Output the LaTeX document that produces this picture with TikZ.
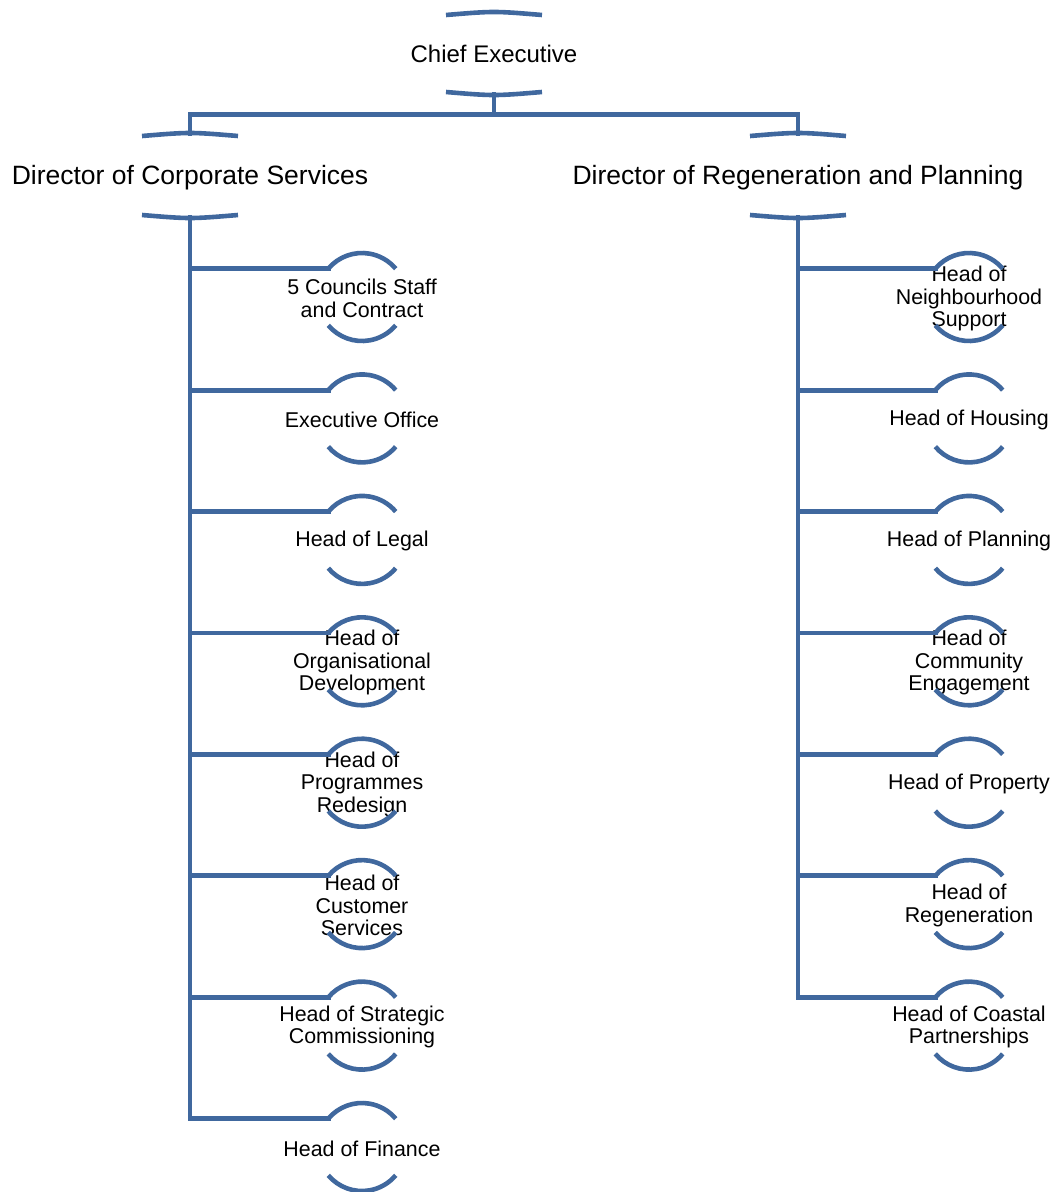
\documentclass[tikz,border=0pt]{standalone}
\usepackage{fontspec}
\setmainfont{Liberation Sans}
\definecolor{orgblue}{RGB}{64,104,158}
\begin{document}
\begin{tikzpicture}[x=1pt,y=-1pt,
  conn/.style={draw=orgblue, line width=4.8pt, line cap=rect},
  archline/.style={draw=orgblue, line width=4.6pt},
  toptext/.style={font=\fontsize{24}{26}\selectfont, inner sep=0pt},
  dirtext/.style={font=\fontsize{26.5}{28}\selectfont, inner sep=0pt},
  smalltext/.style={font=\fontsize{21.4}{22.4}\selectfont, align=center, inner sep=0pt}]
\useasboundingbox (0,0) rectangle (1054,1192);

% Chief Executive
\node[toptext] (ceo) at (494,54) {Chief Executive};
\draw[archline] (446,15) .. controls (494,11) .. (542,15);
\draw[archline] (446,92) .. controls (494,96) .. (542,92);
\coordinate (ceob) at (494,94);

% Directors
\node[dirtext] (dcs) at (190,177.5) {Director of Corporate Services};
\draw[archline] (142,136) .. controls (190,132) .. (238,136);
\draw[archline] (142,215) .. controls (190,219) .. (238,215);
\coordinate (dcst) at (190,134);
\coordinate (dcsb) at (190,217);

\node[dirtext] (drp) at (798,177.5) {Director of Regeneration and Planning};
\draw[archline] (750,136) .. controls (798,132) .. (846,136);
\draw[archline] (750,215) .. controls (798,219) .. (846,215);
\coordinate (drpt) at (798,134);
\coordinate (drpb) at (798,217);

% top connectors
\coordinate (bar) at (494,114.5);
\coordinate (barl) at (190,114.5);
\coordinate (barr) at (798,114.5);
\draw[conn] (ceob) -- (bar);
\draw[conn] (barl) -- (barr);
\draw[conn] (barl) -- (dcst);
\draw[conn] (barr) -- (drpt);

% left children
\foreach \i/\yy/\txt in {1/297/{5 Councils Staff\\and Contract},
                        2/418.4/{Executive Office},
                        3/539.9/{Head of Legal},
                        4/661.3/{Head of\\Organisational\\Development},
                        5/782.7/{Head of\\Programmes\\Redesign},
                        6/904.1/{Head of\\Customer\\Services},
                        7/1025.6/{Head of Strategic\\Commissioning},
                        8/1147/{Head of Finance}}{
  \node[smalltext] (L\i) at (362,\yy+1.5) {\txt};
  \draw[archline] (362,\yy) ++(220:44) arc[start angle=220,end angle=320,radius=44];
  \draw[archline] (362,\yy) ++(140:44) arc[start angle=140,end angle=40,radius=44];
  \coordinate (L\i w) at (328.3,\yy-28.3);
  \coordinate (TL\i) at (190,\yy-28.3);
  \draw[conn] (TL\i) -- (L\i w);
}
\draw[conn] (dcsb) -- (TL8);

% right children
\foreach \i/\yy/\txt in {1/297/{Head of\\Neighbourhood\\Support},
                        2/418.4/{Head of Housing},
                        3/539.9/{Head of Planning},
                        4/661.3/{Head of\\Community\\Engagement},
                        5/782.7/{Head of Property},
                        6/904.1/{Head of\\Regeneration},
                        7/1025.6/{Head of Coastal\\Partnerships}}{
  \node[smalltext] (R\i) at (969,\yy+1.5) {\txt};
  \draw[archline] (969,\yy) ++(220:44) arc[start angle=220,end angle=320,radius=44];
  \draw[archline] (969,\yy) ++(140:44) arc[start angle=140,end angle=40,radius=44];
  \coordinate (R\i w) at (935.3,\yy-28.3);
  \coordinate (TR\i) at (798,\yy-28.3);
  \draw[conn] (TR\i) -- (R\i w);
}
\draw[conn] (drpb) -- (TR7);
\end{tikzpicture}
\end{document}
